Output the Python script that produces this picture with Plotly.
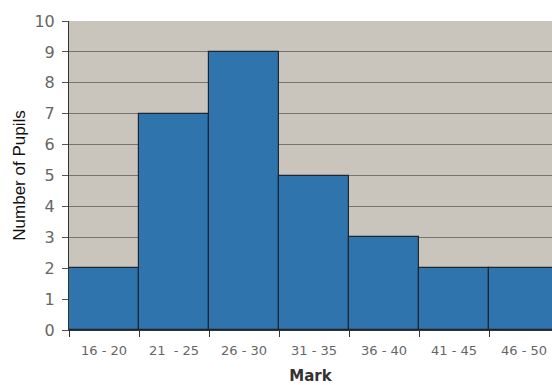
import plotly.graph_objects as go

# Mark bands and how many pupils scored in each
mark_bands = ["16 - 20", "21  - 25", "26 - 30", "31 - 35", "36 - 40", "41 - 45", "46 - 50"]
pupil_counts = [2, 7, 9, 5, 3, 2, 2]
y_ticks = list(range(0, 11))

fig = go.Figure(
    go.Bar(
        x=mark_bands,
        y=pupil_counts,
        width=1.0,
        marker=dict(color="#2f74ad", line=dict(color="#1b2733", width=1.2)),
    )
)

fig.update_layout(
    width=552,
    height=385,
    margin=dict(l=69, r=0, t=21, b=55),
    paper_bgcolor="white",
    plot_bgcolor="#c9c5bd",
    showlegend=False,
    bargap=0,
)

fig.update_xaxes(
    type="category",
    range=[-0.5, 6.4],
    tickson="boundaries",
    ticks="outside",
    ticklen=6,
    tickcolor="#333",
    ticklabelstandoff=8,
    showgrid=False,
    showline=True,
    linecolor="#333",
    linewidth=1,
    tickfont=dict(family="DejaVu Sans", size=13, color="#666"),
    title=dict(
        text="<b>Mark</b>",
        font=dict(family="DejaVu Sans", size=15, color="#333"),
        standoff=15,
    ),
)

fig.update_yaxes(
    range=[0, 10],
    tickvals=y_ticks,
    ticks="outside",
    ticklen=6,
    tickcolor="#555",
    ticklabelstandoff=4,
    showgrid=True,
    gridcolor="#77746f",
    gridwidth=1,
    showline=True,
    linecolor="#333",
    linewidth=1,
    zeroline=False,
    tickfont=dict(family="DejaVu Sans", size=16, color="#666"),
    title=dict(
        text="Number of Pupils",
        font=dict(family="Liberation Sans", size=17, color="#111"),
        standoff=4,
    ),
)

fig.write_html("out.html")
